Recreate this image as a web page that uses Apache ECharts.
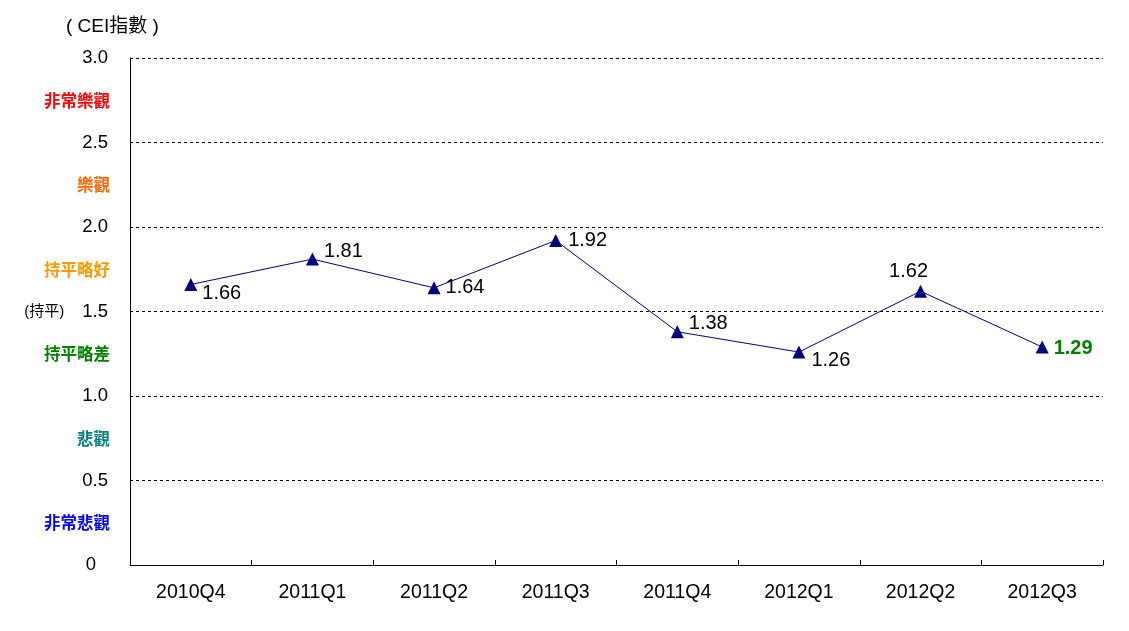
<!DOCTYPE html>
<html>
<head>
<meta charset="utf-8">
<script src="https://cdn.jsdelivr.net/npm/echarts@6/dist/echarts.min.js"></script>
<style>
html,body{margin:0;padding:0;background:#fff;}
#c{width:1129px;height:631px;}
</style>
</head>
<body>
<div id="c"></div>
<script>
var categories = ['2010Q4','2011Q1','2011Q2','2011Q3','2011Q4','2012Q1','2012Q2','2012Q3'];
var values = [1.66, 1.81, 1.64, 1.92, 1.38, 1.26, 1.62, 1.29];
var tickLabels = {'0':'0','0.5':'0.5','1':'1.0','1.5':'1.5','2':'2.0','2.5':'2.5','3':'3.0'};
var zoneLabels = {'0.25':'非常悲觀','0.75':'悲觀','1.25':'持平略差','1.75':'持平略好','2.25':'樂觀','2.75':'非常樂觀'};
var zoneColors = {'0.25':'#0000FF','0.75':'#008080','1.25':'#008000','1.75':'#FF9900','2.25':'#FF6600','2.75':'#FF0000'};

var FONT = '"Liberation Sans", Arial, "Noto Sans CJK TC", sans-serif';
var CJK = '"Noto Sans CJK TC", "Liberation Sans", sans-serif';

// per-point label placement (styling only)
var labelPlace = [
  {position:'right', offset:[0,9]},
  {position:'right', offset:[0,-8]},
  {position:'right', offset:[0,0]},
  {position:'right', offset:[1,0]},
  {position:'right', offset:[0,-8]},
  {position:'right', offset:[1,8]},
  {position:'top', offset:[-12,2]},
  {position:'right', offset:[0,1]}
];

var seriesData = values.map(function(v,i){
  var lbl = {show:true, position:labelPlace[i].position, offset:labelPlace[i].offset,
    fontSize:20, color:'#000', fontFamily:FONT, distance:5};
  if (i === values.length-1) { lbl.color = '#008000'; lbl.fontWeight = 'bold'; }
  return {value:v, label:lbl};
});

var chart = echarts.init(document.getElementById('c'));
chart.setOption({
  animation:false,
  backgroundColor:'#fff',
  title:{text:'( CEI指數 )', left:61, top:12,
    textStyle:{fontSize:19, fontWeight:'normal', color:'#000', fontFamily:FONT}},
  grid:{left:130, right:26, top:58, bottom:66},
  xAxis:{
    type:'category', data:categories, boundaryGap:true,
    axisLine:{lineStyle:{color:'#000', width:1}},
    axisTick:{show:true, inside:true, length:5, lineStyle:{color:'#000'}},
    axisLabel:{fontSize:19.5, color:'#000', fontFamily:FONT, margin:18}
  },
  yAxis:[{
    type:'value', min:0, max:3, interval:0.5,
    axisLine:{show:true, lineStyle:{color:'#000', width:1}},
    axisTick:{show:false},
    splitLine:{show:true, lineStyle:{color:'#000', type:[3,3], width:1}},
    axisLabel:{margin:22, fontSize:18.5, color:'#000', fontFamily:FONT,
      formatter:function(v){
        var t = tickLabels[String(v)];
        if (v === 1.5) return '{p|(持平)}{n|' + t + '}';
        if (v === 0) return '{z|' + t + '}';
        return t;
      },
      rich:{
        p:{fontSize:15, color:'#000', fontFamily:FONT, padding:[0,18,0,0]},
        n:{fontSize:18.5, color:'#000', fontFamily:FONT},
        z:{fontSize:18.5, color:'#000', fontFamily:FONT, padding:[0,12,0,0]}
      }
    }
  },{
    type:'value', min:0, max:3, interval:0.25, position:'left', offset:0,
    axisLine:{show:false}, axisTick:{show:false}, splitLine:{show:false},
    axisLabel:{margin:20, fontSize:16, fontWeight:'bold', fontFamily:CJK,
      formatter:function(v){
        var k = String(v);
        return zoneLabels[k] ? '{' + k.replace('.','_') + '|' + zoneLabels[k] + '}' : '';
      },
      rich:(function(){
        var r = {};
        Object.keys(zoneColors).forEach(function(k){
          r[k.replace('.','_')] = {color:zoneColors[k], fontSize:16.5, fontWeight:'bold', fontFamily:CJK};
        });
        return r;
      })()
    }
  }],
  series:[{
    type:'line', yAxisIndex:0, data:seriesData,
    symbol:'triangle', symbolSize:13,
    itemStyle:{color:'#000080'},
    lineStyle:{color:'#000080', width:1}
  }]
});
</script>
</body>
</html>
